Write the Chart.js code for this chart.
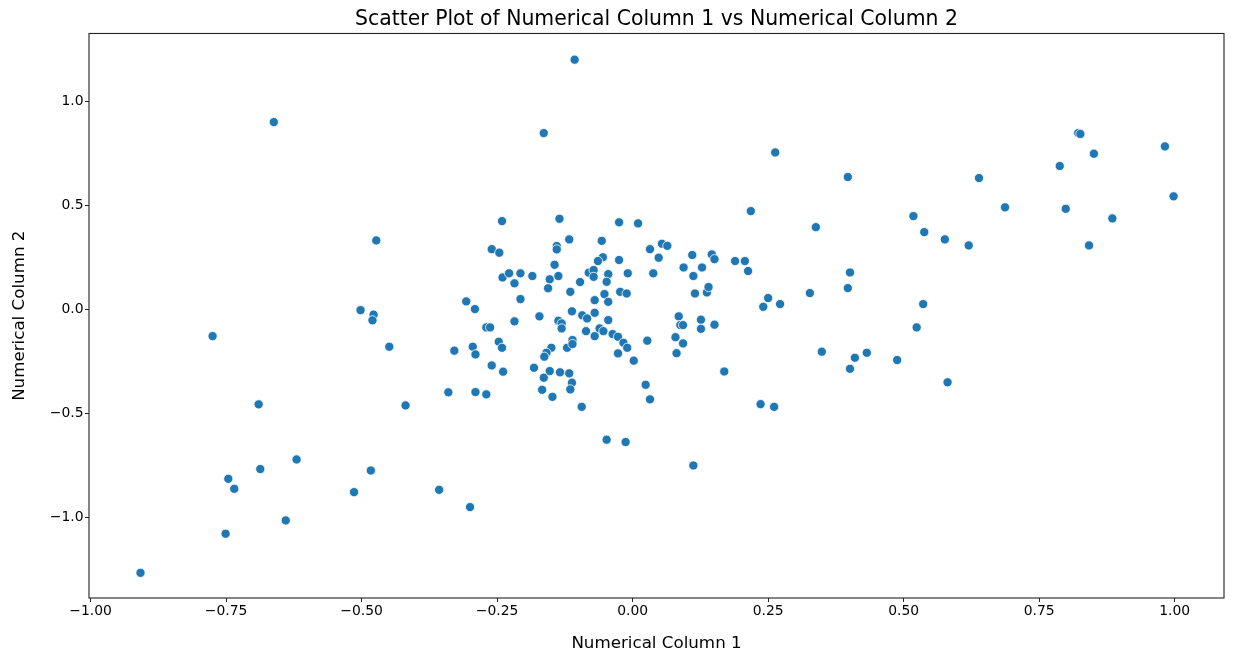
<!DOCTYPE html>
<html>
<head>
<meta charset="utf-8">
<script src="https://cdn.jsdelivr.net/npm/chart.js@4.4.0/dist/chart.umd.min.js"></script>
<style>
html,body{margin:0;padding:0;background:#fff;}
#wrap{width:1233px;height:658px;}
</style>
</head>
<body>
<div id="wrap"><canvas id="c" width="1233" height="658"></canvas></div>
<script>
const chartTitle = "Scatter Plot of Numerical Column 1 vs Numerical Column 2";
const xLabel = "Numerical Column 1";
const yLabel = "Numerical Column 2";
const xTicks = [-1.0, -0.75, -0.5, -0.25, 0.0, 0.25, 0.5, 0.75, 1.0];
const yTicks = [-1.0, -0.5, 0.0, 0.5, 1.0];

const col1 = [
 -0.502,-0.478,-0.480,-0.775,-0.449,-0.340,-0.690,-0.419,-0.620,-0.687,-0.483,-0.746,-0.735,-0.357,-0.514,-0.640,-0.751,-0.908,
 -0.662,-0.473,-0.107,-0.164,0.263,-0.300,-0.048,-0.013,0.112,
 0.822,0.826,0.982,0.851,0.788,0.397,0.639,0.998,0.687,0.799,0.518,0.885,0.538,0.576,0.620,0.842,0.338,0.401,
 0.327,0.397,0.536,0.524,0.349,0.432,0.410,0.488,0.401,0.581,
 -0.241,-0.135,-0.025,0.010,-0.117,-0.057,-0.260,-0.246,-0.140,-0.140,-0.055,-0.064,-0.025,-0.144,-0.240,-0.228,-0.207,-0.218,
 -0.185,-0.153,-0.137,-0.156,-0.081,-0.072,-0.072,-0.045,-0.048,-0.009,-0.097,-0.115,-0.052,-0.023,-0.011,-0.070,-0.045,-0.207,
 -0.307,-0.291,-0.112,-0.093,-0.084,-0.070,-0.045,-0.172,-0.137,-0.131,-0.131,-0.218,-0.270,-0.263,-0.086,-0.070,-0.061,-0.054,
 -0.037,-0.027,-0.017,-0.010,-0.027,0.002,-0.247,-0.241,-0.295,-0.290,-0.329,-0.121,-0.111,-0.111,-0.150,-0.159,-0.163,-0.260,
 -0.239,-0.182,-0.153,-0.164,-0.134,-0.117,-0.112,-0.115,-0.167,-0.148,-0.094,-0.290,-0.270,
 0.218,0.032,0.054,0.064,0.048,0.038,0.110,0.146,0.151,0.094,0.128,0.112,0.189,0.207,0.213,0.115,0.137,0.140,0.250,0.241,0.272,
 0.085,0.088,0.093,0.126,0.126,0.151,0.079,0.093,0.081,0.027,0.169,0.024,0.032,0.236,0.261
];
const col2 = [
 -0.005,-0.027,-0.054,-0.130,-0.181,-0.400,-0.458,-0.463,-0.723,-0.769,-0.776,-0.816,-0.864,-0.869,-0.880,-1.016,-1.080,-1.268,
 0.899,0.330,1.199,0.846,0.753,-0.952,-0.628,-0.639,-0.752,
 0.846,0.842,0.782,0.747,0.688,0.635,0.630,0.542,0.489,0.482,0.447,0.436,0.370,0.335,0.306,0.306,0.394,0.176,
 0.077,0.101,0.024,-0.088,-0.205,-0.210,-0.234,-0.245,-0.287,-0.352,
 0.423,0.434,0.417,0.412,0.335,0.328,0.288,0.271,0.303,0.287,0.249,0.231,0.236,0.213,0.152,0.172,0.172,0.124,
 0.159,0.143,0.159,0.100,0.175,0.188,0.155,0.168,0.131,0.172,0.130,0.083,0.072,0.083,0.075,0.043,0.035,0.048,
 0.037,0.000,-0.011,-0.030,-0.045,-0.018,-0.053,-0.035,-0.056,-0.069,-0.093,-0.059,-0.088,-0.088,-0.106,-0.130,-0.093,-0.106,
 -0.120,-0.133,-0.162,-0.186,-0.213,-0.248,-0.157,-0.186,-0.181,-0.218,-0.200,-0.186,-0.149,-0.168,-0.186,-0.210,-0.229,-0.271,
 -0.301,-0.282,-0.298,-0.330,-0.304,-0.309,-0.354,-0.386,-0.388,-0.422,-0.470,-0.399,-0.410,
 0.471,0.288,0.314,0.304,0.247,0.172,0.260,0.263,0.240,0.200,0.200,0.159,0.231,0.231,0.183,0.075,0.080,0.106,0.053,0.011,0.024,
 -0.035,-0.077,-0.077,-0.051,-0.095,-0.075,-0.135,-0.165,-0.212,-0.152,-0.300,-0.364,-0.434,-0.457,-0.470
];

const pts = col1.map((x, i) => ({x: x, y: col2[i]}));
const minus = s => s.replace('-', '\u2212');
const FONT = "'DejaVu Sans', sans-serif";

const frame = {
  id: 'frame',
  afterDatasetsDraw(chart) {
    const {ctx, chartArea: a} = chart;
    ctx.save();
    ctx.strokeStyle = '#222';
    ctx.lineWidth = 1.1;
    ctx.strokeRect(a.left, a.top, a.right - a.left, a.bottom - a.top);
    ctx.restore();
  }
};

new Chart(document.getElementById('c'), {
  type: 'scatter',
  data: {
    datasets: [{
      data: pts,
      backgroundColor: '#1f77b4',
      borderColor: '#ffffff',
      borderWidth: 0.8,
      pointRadius: 4.6,
      pointHoverRadius: 4.6
    }]
  },
  options: {
    responsive: false,
    animation: false,
    devicePixelRatio: 1,
    events: [],
    layout: {padding: {left: 0, right: 9, top: 0, bottom: 0}},
    plugins: {
      legend: {display: false},
      tooltip: {enabled: false},
      title: {
        display: true,
        fullSize: false,
        text: chartTitle,
        color: '#000',
        font: {family: FONT, size: 20.4, weight: 'normal', lineHeight: 1.2},
        padding: {top: 7, bottom: 2}
      }
    },
    scales: {
      x: {
        type: 'linear',
        position: 'bottom',
        min: -1.003,
        max: 1.091,
        afterBuildTicks: s => { s.ticks = xTicks.map(v => ({value: v})); },
        afterFit: s => { s.height = 60; },
        border: {display: false},
        grid: {display: true, drawOnChartArea: false, drawTicks: true, tickLength: 4, color: '#222', lineWidth: 1},
        ticks: {
          padding: 1, color: '#000', maxRotation: 0,
          font: {family: FONT, size: 13.9},
          callback: v => minus(Number(v).toFixed(2))
        },
        title: {
          display: true, text: xLabel, color: '#000',
          font: {family: FONT, size: 16.7, lineHeight: 1.2},
          padding: {top: 0, bottom: 4}
        }
      },
      y: {
        type: 'linear',
        min: -1.389,
        max: 1.325,
        afterBuildTicks: s => { s.ticks = yTicks.map(v => ({value: v})); },
        afterFit: s => { s.width = 89; },
        border: {display: false},
        grid: {display: true, drawOnChartArea: false, drawTicks: true, tickLength: 4, color: '#222', lineWidth: 1},
        ticks: {
          padding: 1.5, color: '#000',
          font: {family: FONT, size: 13.9},
          callback: v => minus(Number(v).toFixed(1))
        },
        title: {
          display: true, text: yLabel, color: '#000',
          font: {family: FONT, size: 16.7, lineHeight: 1.2},
          padding: {top: 10, bottom: 0}
        }
      }
    }
  },
  plugins: [frame]
});
</script>
</body>
</html>
